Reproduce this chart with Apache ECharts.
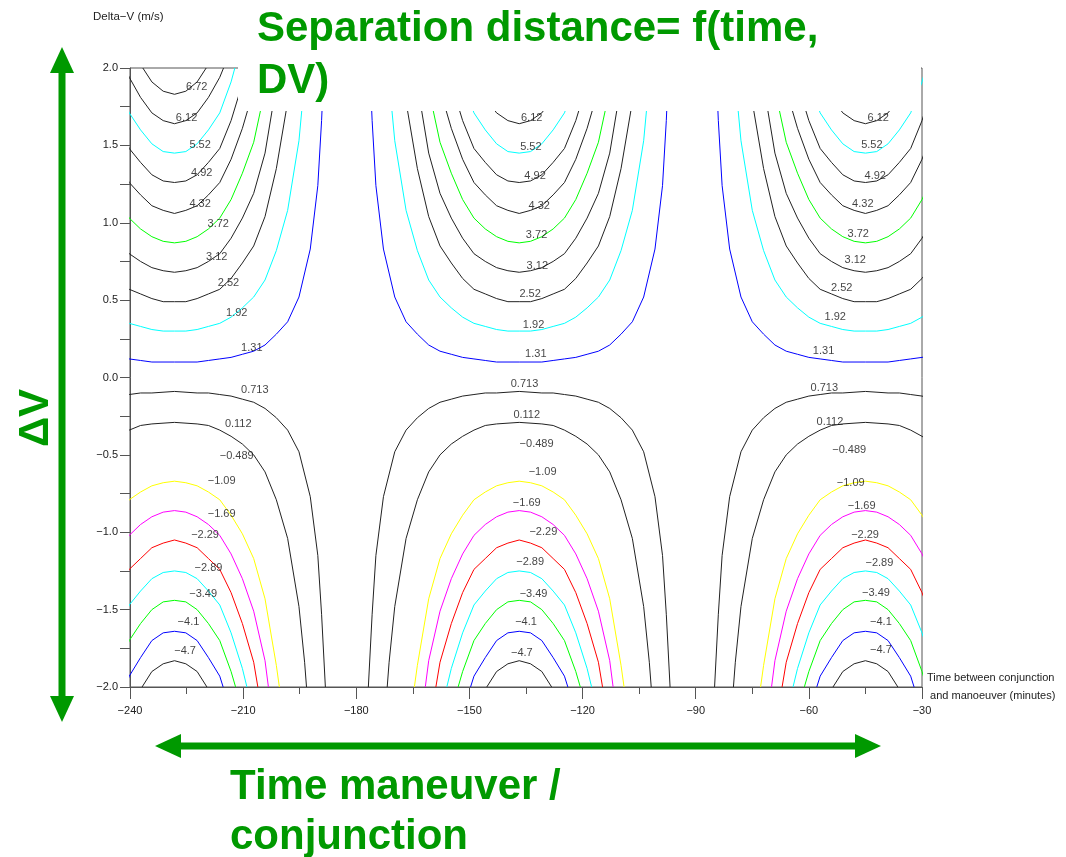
<!DOCTYPE html>
<html>
<head>
<meta charset="utf-8">
<title>Separation distance</title>
<script src="https://cdn.jsdelivr.net/npm/echarts@6/dist/echarts.min.js"></script>
<style>
html, body { margin: 0; padding: 0; background: #fff; }
#chart { width: 1066px; height: 857px; }
</style>
</head>
<body>
<div id="chart"></div>
<script>
// contour levels, top of the plot to the bottom
const levelTexts = ['6.72', '6.12', '5.52', '4.92', '4.32', '3.72', '3.12', '2.52', '1.92', '1.31',
    '0.713', '0.112', '\u22120.489', '\u22121.09', '\u22121.69', '\u22122.29', '\u22122.89', '\u22123.49', '\u22124.1', '\u22124.7']
const levelColors = ['#222', '#222', '#00ffff', '#222', '#222', '#00ff00', '#222', '#222', '#00ffff', '#0000ff',
    '#222', '#222', null, '#ffff00', '#ff00ff', '#ff0000', '#00ffff', '#00ff00', '#0000ff', '#222']

// centre of each lobe (minutes)
const lobeCenters = [-228.2, -136.8, -45.0]

// half contours: [minutes from lobe centre, delta-V]
const prof672 = [[0, 1.83], [3, 1.85], [6, 1.91], [8.4, 2.0]]
const prof612 = [[0, 1.64], [3, 1.66], [6, 1.71], [9, 1.81], [12, 1.94], [13, 2.0]]
const prof552 = [[0, 1.45], [3, 1.46], [6, 1.51], [9, 1.6], [12, 1.71], [15, 1.91], [16, 2.0]]
const prof492 = [[0, 1.26], [3, 1.27], [6, 1.31], [9, 1.39], [12, 1.48], [15, 1.66], [18, 1.9], [19.2, 2.0]]
const prof432 = [[0, 1.06], [3, 1.08], [6, 1.11], [9, 1.18], [12, 1.26], [15, 1.41], [18, 1.61], [21, 1.86], [22.2, 2.0]]
const prof372 = [[0, 0.87], [3, 0.88], [6, 0.91], [9, 0.96], [12, 1.03], [15, 1.15], [18, 1.32], [21, 1.52], [24, 1.86], [24.9, 2.0]]
const prof312 = [[0, 0.68], [3, 0.69], [6, 0.71], [9, 0.75], [12, 0.8], [15, 0.9], [18, 1.03], [21, 1.19], [24, 1.45], [27, 1.89], [27.7, 2.0]]
const prof252 = [[0, 0.49], [3, 0.49], [6, 0.51], [9, 0.54], [12, 0.57], [15, 0.64], [18, 0.74], [21, 0.85], [24, 1.04], [27, 1.35], [30, 1.78], [31.2, 2.0]]
const prof192 = [[0, 0.3], [3, 0.3], [6, 0.31], [9, 0.33], [12, 0.35], [15, 0.39], [18, 0.45], [21, 0.52], [24, 0.63], [27, 0.82], [30, 1.08], [33, 1.53], [34.8, 2.0]]
const prof131 = [[0, 0.1], [6, 0.1], [9, 0.11], [12, 0.12], [15, 0.13], [18, 0.15], [21, 0.17], [24, 0.21], [27, 0.28], [30, 0.36], [33, 0.52], [36, 0.83], [38, 1.24], [39, 1.66], [39.6, 2.0]]
const prof0713 = [[0, -0.09], [6, -0.1], [9, -0.1], [12, -0.11], [15, -0.12], [18, -0.14], [21, -0.16], [24, -0.2], [27, -0.26], [30, -0.34], [33, -0.48], [36, -0.77], [38, -1.15], [39, -1.53], [40, -2.0]]
const prof0112 = [[0, -0.29], [6, -0.3], [9, -0.31], [12, -0.34], [15, -0.38], [18, -0.43], [21, -0.5], [24, -0.61], [27, -0.79], [30, -1.04], [33, -1.48], [34.5, -1.84], [35, -2.0]]
const prof109 = [[0, -0.67], [3, -0.68], [6, -0.7], [9, -0.74], [12, -0.79], [15, -0.89], [18, -1.01], [21, -1.17], [24, -1.43], [27, -1.86], [27.8, -2.0]]
const prof169 = [[0, -0.86], [3, -0.87], [6, -0.9], [9, -0.95], [12, -1.02], [15, -1.14], [18, -1.3], [21, -1.51], [24, -1.83], [24.9, -2.0]]
const prof229 = [[0, -1.05], [3, -1.07], [6, -1.1], [9, -1.17], [12, -1.24], [15, -1.39], [18, -1.59], [21, -1.84], [22.1, -2.0]]
const prof289 = [[0, -1.25], [3, -1.26], [6, -1.3], [9, -1.38], [12, -1.47], [15, -1.65], [18, -1.88], [19.2, -2.0]]
const prof349 = [[0, -1.44], [3, -1.45], [6, -1.5], [9, -1.59], [12, -1.7], [15, -1.9], [16.2, -2.0]]
const prof410 = [[0, -1.64], [3, -1.65], [6, -1.7], [9, -1.81], [12, -1.93], [12.9, -2.0]]
const prof470 = [[0, -1.83], [3, -1.85], [6, -1.9], [8.6, -2.0]]

// the -0.489 line is not drawn on the original
const levelProfiles = [prof672, prof612, prof552, prof492, prof432, prof372, prof312, prof252, prof192, prof131,
    prof0713, prof0112, null, prof109, prof169, prof229, prof289, prof349, prof410, prof470]

// label positions [minutes, delta-V] for each lobe, same order as levelTexts
const labelsLeft = [[-222.3, 1.88], [-225.0, 1.68], [-221.4, 1.5], [-221.0, 1.32], [-221.4, 1.12], [-216.6, 0.99],
    [-217.0, 0.78], [-213.9, 0.61], [-211.7, 0.42], [-207.7, 0.19], [-206.9, -0.08], [-211.3, -0.3], [-211.7, -0.51],
    [-215.7, -0.67], [-215.7, -0.88], [-220.1, -1.02], [-219.2, -1.23], [-220.6, -1.4], [-224.5, -1.58], [-225.4, -1.77]]
const labelsMiddle = [null, [-133.5, 1.68], [-133.7, 1.49], [-132.6, 1.3], [-131.5, 1.11], [-132.2, 0.92],
    [-132.0, 0.72], [-133.9, 0.54], [-133.0, 0.34], [-132.4, 0.15], [-135.4, -0.04], [-134.8, -0.24], [-132.2, -0.43],
    [-130.6, -0.61], [-134.8, -0.81], [-130.4, -1.0], [-133.9, -1.19], [-133.0, -1.4], [-135.0, -1.58], [-136.1, -1.78]]
const labelsRight = [null, [-41.6, 1.68], [-43.3, 1.5], [-42.4, 1.3], [-45.7, 1.12], [-46.9, 0.93],
    [-47.7, 0.76], [-51.3, 0.58], [-53.0, 0.39], [-56.1, 0.17], [-55.9, -0.07], [-54.4, -0.29], [-49.3, -0.47],
    [-48.9, -0.68], [-46.0, -0.83], [-45.1, -1.02], [-41.3, -1.2], [-42.2, -1.39], [-40.9, -1.58], [-40.9, -1.76]]

const GREEN = '#009900'
const BIG_FONT = 'Liberation Sans, Arial, sans-serif'

function lobeLine(profile, centre) {
    let left = profile.slice().reverse().map(p => [centre - p[0], p[1]])
    let right = profile.slice(1).map(p => [centre + p[0], p[1]])
    return left.concat(right)
}

function minusSign(v) {
    return String(v).replace('-', '\u2212')
}

let series = []
levelProfiles.forEach((prof, i) => {
    if (!prof) return
    lobeCenters.forEach(c => {
        series.push({
            type: 'line',
            data: lobeLine(prof, c),
            symbol: 'none',
            clip: true,
            silent: true,
            lineStyle: { color: levelColors[i], width: 1 },
            z: 2,
        })
    })
})

let labelData = []
;[labelsLeft, labelsMiddle, labelsRight].forEach(arr => {
    arr.forEach((p, i) => {
        if (p) labelData.push([p[0], p[1], levelTexts[i]])
    })
})
series.push({
    type: 'scatter',
    data: labelData,
    symbolSize: 1,
    itemStyle: { color: 'rgba(0,0,0,0)' },
    silent: true,
    label: {
        show: true,
        position: 'inside',
        formatter: p => p.value[2],
        fontSize: 11,
        fontFamily: 'Liberation Sans, Arial, sans-serif',
        color: '#111',
    },
    z: 4,
})

let axisColor = '#555'
let myChart = echarts.init(document.getElementById('chart'), null, { renderer: 'canvas' })
let option = {
    animation: false,
    backgroundColor: '#fff',
    grid: {
        left: 130,
        right: 144,
        top: 68,
        bottom: 170,
        outerBoundsMode: 'none',
        show: true,
        borderColor: axisColor,
        borderWidth: 1,
    },
    xAxis: {
        type: 'value',
        min: -240,
        max: -30,
        interval: 30,
        name: 'Time between conjunction\n and manoeuver (minutes)',
        nameLocation: 'end',
        nameGap: 5,
        nameTextStyle: {
            fontSize: 11,
            fontFamily: 'Liberation Sans, Arial, sans-serif',
            color: '#222',
            align: 'left',
            verticalAlign: 'middle',
            lineHeight: 18,
        },
        axisLine: { show: true, onZero: false, lineStyle: { color: axisColor, width: 1 } },
        axisTick: { show: true, length: 12, lineStyle: { color: axisColor } },
        minorTick: { show: true, splitNumber: 2, length: 7, lineStyle: { color: axisColor } },
        splitLine: { show: false },
        axisLabel: {
            margin: 18,
            fontSize: 11,
            fontFamily: 'Liberation Sans, Arial, sans-serif',
            color: '#222',
            formatter: v => minusSign(v),
        },
    },
    yAxis: {
        type: 'value',
        min: -2,
        max: 2,
        interval: 0.5,
        axisLine: { show: true, onZero: false, lineStyle: { color: axisColor, width: 1 } },
        axisTick: { show: true, length: 10, lineStyle: { color: axisColor } },
        minorTick: { show: true, splitNumber: 2, length: 10, lineStyle: { color: axisColor } },
        splitLine: { show: false },
        axisLabel: {
            margin: 12,
            fontSize: 11,
            fontFamily: 'Liberation Sans, Arial, sans-serif',
            color: '#222',
            formatter: v => minusSign(v.toFixed(1)),
        },
    },
    graphic: [
        // white box behind the title, over the top of the plot
        { type: 'rect', shape: { x: 238, y: 0, width: 683, height: 111 }, style: { fill: '#fff' }, z: 100 },
        {
            type: 'text', x: 257, y: 29, z: 101,
            style: { text: 'Separation distance= f(time,', font: 'bold 42px ' + BIG_FONT, fill: GREEN, verticalAlign: 'middle' },
        },
        {
            type: 'text', x: 257, y: 81, z: 101,
            style: { text: 'DV)', font: 'bold 42px ' + BIG_FONT, fill: GREEN, verticalAlign: 'middle' },
        },
        {
            type: 'text', x: 93, y: 17, z: 101,
            style: { text: 'Delta\u2212V (m/s)', font: '11.5px Liberation Sans, Arial, sans-serif', fill: '#222', align: 'left', verticalAlign: 'middle' },
        },
        {
            type: 'text', x: 36, y: 418, rotation: Math.PI / 2, z: 101,
            style: { text: '\u0394V', font: 'bold 42px ' + BIG_FONT, fill: GREEN, align: 'center', verticalAlign: 'middle' },
        },
        {
            type: 'text', x: 230, y: 787, z: 101,
            style: { text: 'Time maneuver /', font: 'bold 42px ' + BIG_FONT, fill: GREEN, verticalAlign: 'middle' },
        },
        {
            type: 'text', x: 230, y: 837, z: 101,
            style: { text: 'conjunction', font: 'bold 42px ' + BIG_FONT, fill: GREEN, verticalAlign: 'middle' },
        },
        // vertical double arrow
        { type: 'rect', shape: { x: 58.5, y: 70, width: 7, height: 628 }, style: { fill: GREEN }, z: 101 },
        { type: 'polygon', shape: { points: [[62, 47], [50, 73], [74, 73]] }, style: { fill: GREEN }, z: 101 },
        { type: 'polygon', shape: { points: [[62, 722], [50, 696], [74, 696]] }, style: { fill: GREEN }, z: 101 },
        // horizontal double arrow
        { type: 'rect', shape: { x: 178, y: 742.5, width: 680, height: 7 }, style: { fill: GREEN }, z: 101 },
        { type: 'polygon', shape: { points: [[155, 746], [181, 734], [181, 758]] }, style: { fill: GREEN }, z: 101 },
        { type: 'polygon', shape: { points: [[881, 746], [855, 734], [855, 758]] }, style: { fill: GREEN }, z: 101 },
    ],
    series: series,
}
myChart.setOption(option)
</script>
</body>
</html>
